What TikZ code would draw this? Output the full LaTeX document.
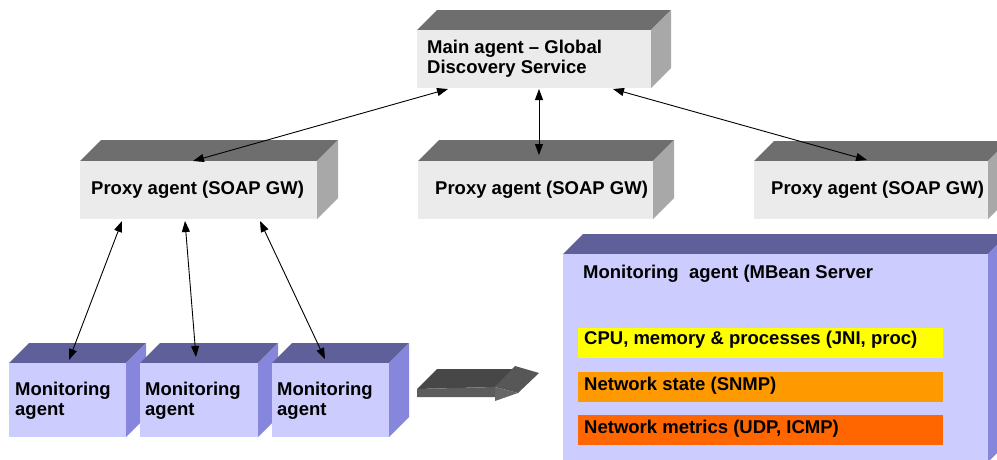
\documentclass[tikz,border=0pt]{standalone}
\usepackage{fontspec}
\setmainfont{Liberation Sans}
\usetikzlibrary{arrows.meta,fit}
\definecolor{gfront}{HTML}{EBEBEB}
\definecolor{gtop}{HTML}{6E6E6E}
\definecolor{gside}{HTML}{A8A8A8}
\definecolor{bfront}{HTML}{CCCCFF}
\definecolor{btop}{HTML}{5F5F99}
\definecolor{bside}{HTML}{8686DD}
\definecolor{ayellow}{HTML}{FFFF00}
\definecolor{aorange}{HTML}{FF9900}
\definecolor{adorange}{HTML}{FF6600}
\newcommand{\mycube}[9]{%
  \fill[#7] (#1,#2) -- ({#1+#5},{#2-#5}) -- ({#3+#5},{#2-#5}) -- (#3,#2) -- cycle;
  \fill[#8] (#3,#2) -- ({#3+#5},{#2-#5}) -- ({#3+#5},{#4-#5}) -- (#3,#4) -- cycle;
  \node[fill=#6, inner sep=0pt, outer sep=0pt, fit={(#1,#2) (#3,#4)}] (#9) {};
}
\begin{document}
\begin{tikzpicture}[x=1pt,y=-1pt,
  lbl/.style={font=\fontsize{18.5}{20}\selectfont\bfseries, inner sep=0pt, anchor=base west, align=left},
  link/.style={{Triangle[length=11pt,width=8pt]}-{Triangle[length=11pt,width=8pt]}, line width=0.9pt, black}]
\clip (0,0) rectangle (997,459);
\fill[white] (0,0) rectangle (997,459);
% main agent
\mycube{417}{30}{651}{88}{20}{gfront}{gtop}{gside}{main}
\node[lbl] (maint) at (427,73) {Main agent – Global\\Discovery Service};
% proxies
\mycube{80}{161}{317}{219}{21}{gfront}{gtop}{gside}{p1}
\mycube{418}{161}{653}{219}{21}{gfront}{gtop}{gside}{p2}
\mycube{754}{161}{988}{219}{20}{gfront}{gtop}{gside}{p3}
\node[lbl] (p1t) at (91,194) {Proxy agent (SOAP GW)};
\node[lbl] (p2t) at (435,194) {Proxy agent (SOAP GW)};
\node[lbl] (p3t) at (771,194) {Proxy agent (SOAP GW)};
% monitoring agents
\mycube{9}{363}{126}{437}{20}{bfront}{btop}{bside}{m1}
\mycube{140}{363}{258}{437}{20}{bfront}{btop}{bside}{m2}
\mycube{272}{363}{389}{437}{20}{bfront}{btop}{bside}{m3}
\node[lbl] (m1t) at (15,415) {Monitoring\\agent};
\node[lbl] (m2t) at (145,415) {Monitoring\\agent};
\node[lbl] (m3t) at (277,415) {Monitoring\\agent};
% big monitoring agent
\mycube{563}{254}{988}{462}{20}{bfront}{btop}{bside}{big}
\node[lbl] (bigt) at (583,278) {Monitoring\ \ agent (MBean Server};
\node[fill=ayellow, inner sep=0pt, fit={(578,328) (943,358)}] (bar1) {};
\node[fill=aorange, inner sep=0pt, fit={(578,372) (943,402)}] (bar2) {};
\node[fill=adorange, inner sep=0pt, fit={(578,415) (943,445)}] (bar3) {};
\node[lbl] (bar1t) at (584,344) {CPU, memory \& processes (JNI, proc)};
\node[lbl] (bar2t) at (584,390) {Network state (SNMP)};
\node[lbl] (bar3t) at (584,433) {Network metrics (UDP, ICMP)};
% 3D arrow
\fill[black!72] (417,389) -- (437,369) -- (515,369) -- (495,387) -- cycle;
\fill[black!64] (417,389) -- (495,387) -- (495,397) -- (417,397) -- cycle;
\fill[black!66] (515,366) -- (539,373) -- (518,393) -- (495,387) -- cycle;
\fill[black!60] (495,387) -- (518,393) -- (495,401) -- cycle;
% connector end points
\coordinate (a1m) at (448,89);  \coordinate (a1p) at (193,161);
\coordinate (a2m) at (539,89);  \coordinate (a2p) at (539,155);
\coordinate (a3m) at (613,89);  \coordinate (a3p) at (867,160);
\coordinate (b1p) at (122,221); \coordinate (b1m) at (69,360);
\coordinate (b2p) at (185,221); \coordinate (b2m) at (196,357);
\coordinate (b3p) at (260,221); \coordinate (b3m) at (325,359);
\draw[link] (a1m) -- (a1p);
\draw[link] (a2m) -- (a2p);
\draw[link] (a3m) -- (a3p);
\draw[link] (b1p) -- (b1m);
\draw[link] (b2p) -- (b2m);
\draw[link] (b3p) -- (b3m);
\end{tikzpicture}
\end{document}
